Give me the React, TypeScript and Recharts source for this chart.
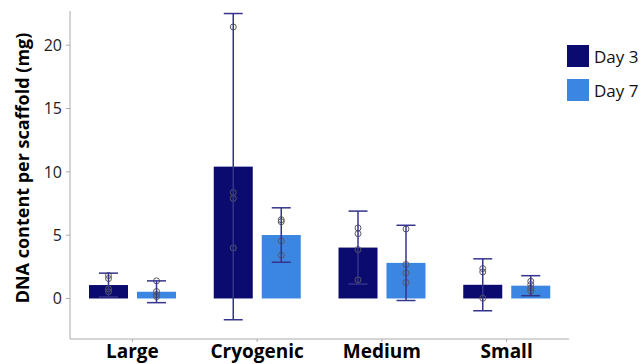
import React from 'react';
import {
  ComposedChart,
  Bar,
  XAxis,
  YAxis,
  ErrorBar,
  Legend,
  Label,
} from 'recharts';

const categories = ['Large', 'Cryogenic', 'Medium', 'Small'];
const day3Mean = [1.06, 10.41, 4.02, 1.08];
const day7Mean = [0.53, 5.01, 2.81, 1.01];
const day3Err = [0.94, 12.09, 2.88, 2.05];
const day7Err = [0.86, 2.15, 2.97, 0.79];
const day3Points = [
  [1.81, 1.57, 0.76, 0.53],
  [21.44, 8.37, 7.9, 3.99],
  [5.57, 5.12, 3.86, 1.47],
  [2.36, 2.1, 0.02],
];
const day7Points = [
  [1.39, 0.55, 0.31, 0.15],
  [6.22, 6.06, 4.54, 3.41],
  [5.49, 2.68, 2.02, 1.26],
  [1.36, 1.1, 0.81, 0.57],
];

const DAY3 = '#0b0a6f';
const DAY7 = '#3a86e0';
const FONT = '"Open Sans", sans-serif';

const data = categories.map((name, i) => ({
  name,
  day3: day3Mean[i],
  day7: day7Mean[i],
  day3Err: day3Err[i],
  day7Err: day7Err[i],
  day3Points: day3Points[i],
  day7Points: day7Points[i],
}));

// bar rect plus the individual replicate points, scaled from the bar's own geometry
const barWithPoints = (key: 'day3' | 'day7') => (props: any) => {
  const { x, y, width, height, fill, payload } = props;
  const value = payload[key];
  const zeroY = y + height;
  const pxPerUnit = height / value;
  const cx = x + width / 2;
  const pts: number[] = payload[key + 'Points'];
  return (
    <g>
      <rect x={x} y={y} width={width} height={height} fill={fill} />
      {pts.map((p, i) => (
        <circle
          key={i}
          cx={cx}
          cy={zeroY - p * pxPerUnit}
          r={3}
          fill="none"
          stroke="#5a5a5a"
          strokeWidth={1}
        />
      ))}
    </g>
  );
};

const LegendBox = () => (
  <div style={{ fontFamily: FONT, fontSize: 17, color: '#111' }}>
    {[
      { label: 'Day 3', color: DAY3 },
      { label: 'Day 7', color: DAY7 },
    ].map((item) => (
      <div
        key={item.label}
        style={{ display: 'flex', alignItems: 'center', height: 22, marginBottom: 12 }}
      >
        <div style={{ width: 22, height: 22, background: item.color, marginRight: 5 }} />
        <span>{item.label}</span>
      </div>
    ))}
  </div>
);

const YLabel = (props: any) => {
  const { viewBox } = props;
  const cx = viewBox.x + 22;
  const cy = viewBox.y + viewBox.height / 2 - 7;
  return (
    <text
      x={cx}
      y={cy}
      transform={`rotate(-90, ${cx}, ${cy})`}
      textAnchor="middle"
      dominantBaseline="central"
      fontFamily={FONT}
      fontSize={18}
      fontWeight="bold"
      fill="#000"
    >
      DNA content per scaffold (mg)
    </text>
  );
};

export default function App() {
  return (
    <div style={{ position: 'absolute', left: 0, top: 0 }}>
      <ComposedChart
        width={644}
        height={364}
        data={data}
        margin={{ top: 11, right: 75, left: 0, bottom: 0 }}
        barGap={9}
      >
        <XAxis
          dataKey="name"
          height={25}
          stroke="#aaa"
          tickSize={3}
          tickMargin={3}
          tick={{ fill: '#000', fontFamily: FONT, fontSize: 19, fontWeight: 'bold' }}
        />
        <YAxis
          width={70}
          domain={[-3.2, 22.7]}
          ticks={[0, 5, 10, 15, 20]}
          allowDataOverflow
          stroke="#aaa"
          tickSize={4}
          tickMargin={4}
          tick={{ fill: '#222', fontFamily: FONT, fontSize: 16 }}
        >
          <Label content={<YLabel />} />
        </YAxis>
        {/* centre/middle so the legend reserves no room; placed by wrapperStyle */}
        <Legend
          content={<LegendBox />}
          layout="vertical"
          verticalAlign="middle"
          align="center"
          wrapperStyle={{ left: 567, top: 45, width: 77 }}
        />
        <Bar dataKey="day3" name="Day 3" fill={DAY3} barSize={39} isAnimationActive={false} shape={barWithPoints('day3')}>
          <ErrorBar dataKey="day3Err" width={9.5} stroke="#34348c" strokeWidth={1.5} />
        </Bar>
        <Bar dataKey="day7" name="Day 7" fill={DAY7} barSize={39} isAnimationActive={false} shape={barWithPoints('day7')}>
          <ErrorBar dataKey="day7Err" width={9.5} stroke="#34348c" strokeWidth={1.5} />
        </Bar>
      </ComposedChart>
    </div>
  );
}
